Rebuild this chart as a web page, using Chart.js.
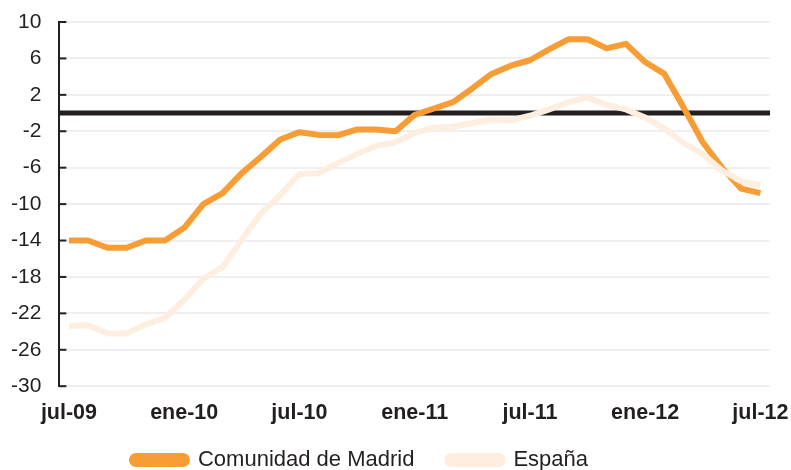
<!DOCTYPE html>
<html>
<head>
<meta charset="utf-8">
<script src="https://cdn.jsdelivr.net/npm/chart.js@4"></script>
<style>
  html, body { margin: 0; padding: 0; background: #fff; }
  #wrap { width: 791px; height: 470px; }
</style>
</head>
<body>
<div id="wrap"><canvas id="grafico"></canvas></div>
<script>
// Meses jul-09 .. jul-12
const meses = [
    'jul-09','ago-09','sep-09','oct-09','nov-09','dic-09',
    'ene-10','feb-10','mar-10','abr-10','may-10','jun-10',
    'jul-10','ago-10','sep-10','oct-10','nov-10','dic-10',
    'ene-11','feb-11','mar-11','abr-11','may-11','jun-11',
    'jul-11','ago-11','sep-11','oct-11','nov-11','dic-11',
    'ene-12','feb-12','mar-12','abr-12','may-12','jun-12',
    'jul-12'
];

const madrid = [
    -14.0, -14.0, -14.8, -14.8, -14.0, -14.0,
    -12.6, -10.0, -8.8, -6.6, -4.8, -2.9,
    -2.1, -2.4, -2.45, -1.8, -1.8, -2.0,
    -0.2, 0.5, 1.2, 2.7, 4.3, 5.2,
    5.8, 7.0, 8.1, 8.1, 7.1, 7.6,
    5.6, 4.3, 0.6, -3.2, -6.0, -8.3,
    -8.8
];

const espana = [
    -23.4, -23.3, -24.2, -24.2, -23.2, -22.5,
    -20.5, -18.2, -16.9, -13.9, -11.0, -9.0,
    -6.7, -6.6, -5.5, -4.5, -3.6, -3.2,
    -2.2, -1.6, -1.5, -1.1, -0.7, -0.8,
    -0.3, 0.4, 1.2, 1.7, 0.9, 0.4,
    -0.5, -1.7, -3.3, -4.5, -6.3, -7.5,
    -7.9
];

const yTicks = [-30, -26, -22, -18, -14, -10, -6, -2, 2, 6, 10];

const fuente = "'Liberation Sans', Arial, sans-serif";
const colorTexto = '#231F20';

// Línea del cero y marcas del eje Y hacia dentro
const lineaCero = {
    id: 'lineaCero',
    afterLayout(chart) {
        // la leyenda del original queda algo más a la izquierda
        const lg = chart.legend;
        lg.left -= 59;
        lg.top -= 10;
        lg.bottom -= 10;
    },
    beforeDatasetsDraw(chart) {
        const { ctx, chartArea, scales } = chart;
        const y0 = scales.y.getPixelForValue(0);
        ctx.save();
        ctx.strokeStyle = colorTexto;
        ctx.lineWidth = 5;
        ctx.beginPath();
        ctx.moveTo(chartArea.left, y0);
        ctx.lineTo(chartArea.right, y0);
        ctx.stroke();

        ctx.lineWidth = 2;
        yTicks.forEach(function(v) {
            const y = scales.y.getPixelForValue(v);
            ctx.beginPath();
            ctx.moveTo(chartArea.left, y);
            ctx.lineTo(chartArea.left + 7, y);
            ctx.stroke();
        });
        ctx.restore();
    }
};

const ctx = document.getElementById('grafico').getContext('2d');

new Chart(ctx, {
    type: 'line',
    data: {
        labels: meses,
        datasets: [{
            label: 'Comunidad de Madrid',
            data: madrid,
            borderColor: '#F89D35',
            backgroundColor: '#F89D35',
            borderWidth: 6,
            pointRadius: 0,
            tension: 0,
            borderJoinStyle: 'round',
            order: 2
        }, {
            label: 'España',
            data: espana,
            borderColor: '#FDEEE0',
            backgroundColor: '#FDEEE0',
            borderWidth: 6,
            pointRadius: 0,
            tension: 0,
            borderJoinStyle: 'round',
            order: 1
        }]
    },
    options: {
        responsive: true,
        maintainAspectRatio: false,
        animation: false,
        layout: {
            padding: { top: 22, right: 21, left: 9, bottom: -21 }
        },
        plugins: {
            legend: {
                display: true,
                position: 'bottom',
                labels: {
                    boxWidth: 55,
                    boxHeight: 8,
                    padding: 33,
                    useBorderRadius: true,
                    borderRadius: 4,
                    color: colorTexto,
                    font: { family: fuente, size: 22 },
                    sort: function(a, b) { return a.datasetIndex - b.datasetIndex; }
                }
            },
            tooltip: { enabled: false }
        },
        scales: {
            x: {
                offset: true,
                grid: { display: false, drawTicks: true, tickLength: 14, tickColor: 'rgba(0,0,0,0)' },
                border: { display: false },
                ticks: {
                    autoSkip: false,
                    maxRotation: 0,
                    padding: 0,
                    color: colorTexto,
                    font: { family: fuente, size: 21.5, weight: 'bold' },
                    callback: function(value, index) {
                        return index % 6 === 0 ? meses[index] : '';
                    }
                }
            },
            y: {
                min: -30,
                max: 10,
                border: { display: true, color: colorTexto, width: 2 },
                grid: {
                    color: '#EFEFEF',
                    lineWidth: 2,
                    drawTicks: true,
                    tickLength: 16,
                    tickColor: 'rgba(0,0,0,0)'
                },
                ticks: {
                    stepSize: 4,
                    padding: 2,
                    color: colorTexto,
                    font: { family: fuente, size: 21 }
                }
            }
        }
    },
    plugins: [lineaCero]
});
</script>
</body>
</html>
